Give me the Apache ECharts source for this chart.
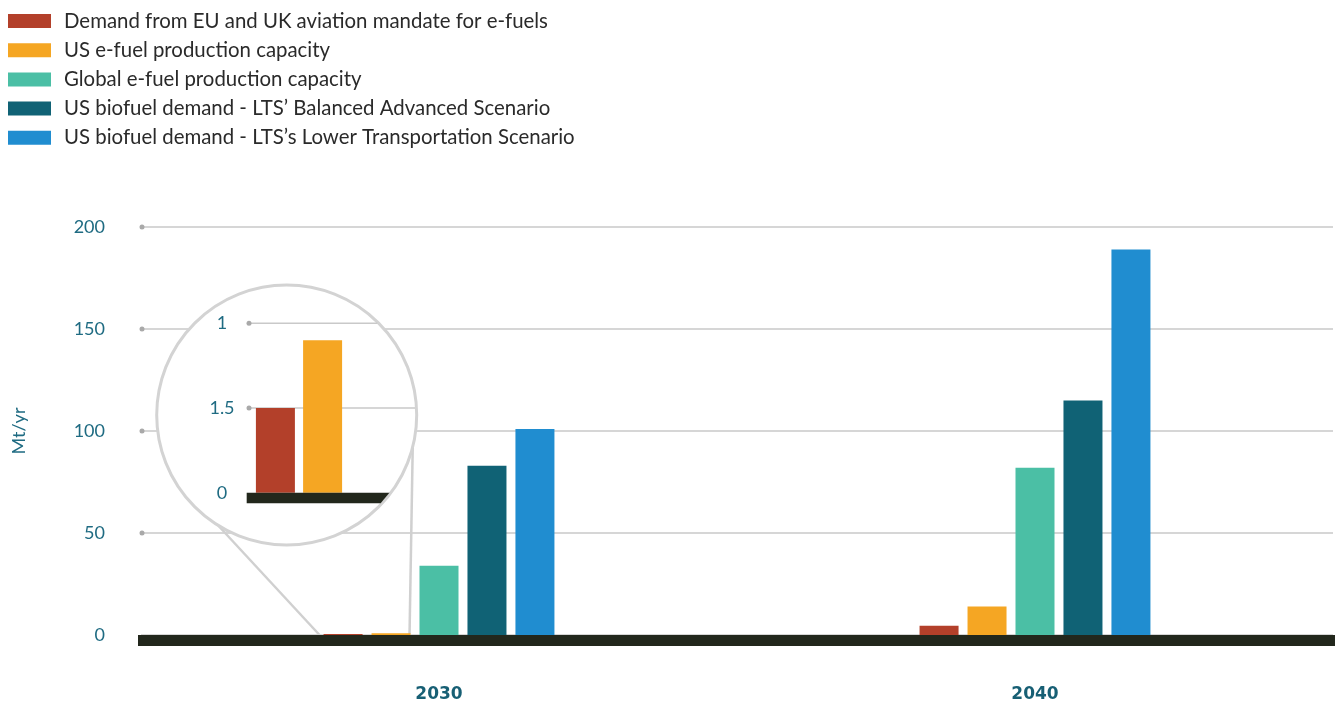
<!DOCTYPE html>
<html>
<head>
<meta charset="utf-8">
<style>
  html, body { margin: 0; padding: 0; background: #ffffff; }
  #chart { width: 1335px; height: 702px; }
</style>
<script src="https://cdn.jsdelivr.net/npm/echarts@6/dist/echarts.min.js"></script>
</head>
<body>
<div id="chart"></div>
<script>
// Fuel demand and capacity, Mt/yr
const years = ['2030', '2040'];
const seriesNames = [
  'Demand from EU and UK aviation mandate for e-fuels',
  'US e-fuel production capacity',
  'Global e-fuel production capacity',
  'US biofuel demand - LTS\u2019 Balanced Advanced Scenario',
  'US biofuel demand - LTS\u2019s Lower Transportation Scenario'
];
const euUkMandate = [0.5, 4.5];
const usEfuelCapacity = [0.9, 14];
const globalEfuelCapacity = [34, 82];
const usBiofuelBalanced = [83, 115];
const usBiofuelLowerTransport = [101, 189];
const yTicks = [0, 50, 100, 150, 200];
// magnifier tick labels as printed
const insetTickValues = [0, 0.5, 1];
const insetTickLabels = ['0', '1.5', '1'];

const colors = ['#b3402a', '#f5a623', '#4bbfa5', '#106275', '#208dd0'];
const values = [euUkMandate, usEfuelCapacity, globalEfuelCapacity, usBiofuelBalanced, usBiofuelLowerTransport];

const FONT = 'Lato, "Noto Sans", sans-serif';
const LABEL_COLOR = '#1f6b82';
const GRID_COLOR = '#c9c9c9';
const BASE_COLOR = '#22271c';
const BAR_W = 39;

const chart = echarts.init(document.getElementById('chart'), null, { renderer: 'canvas' });

const mainSeries = seriesNames.map((name, i) => ({
  name: name,
  type: 'bar',
  xAxisIndex: 0,
  yAxisIndex: 0,
  data: values[i],
  barWidth: BAR_W,
  barGap: '23%',
  itemStyle: { color: colors[i] },
  z: 2,
  emphasis: { disabled: true }
}));

// magnified view of the two smallest 2030 bars
const insetSeries = [0, 1].map(i => ({
  name: seriesNames[i],
  type: 'bar',
  xAxisIndex: 1,
  yAxisIndex: 1,
  data: [values[i][0]],
  barWidth: BAR_W,
  barGap: '21%',
  itemStyle: { color: colors[i] },
  z: 6,
  emphasis: { disabled: true }
}));

chart.setOption({
  animation: false,
  textStyle: { fontFamily: FONT },
  legend: {
    orient: 'vertical',
    left: 8,
    top: 11,
    padding: 0,
    itemWidth: 43,
    itemHeight: 14,
    itemGap: 9.2,
    icon: 'rect',
    selectedMode: false,
    data: seriesNames,
    textStyle: { fontSize: 20.4, color: '#2a2a2a', fontFamily: FONT, padding: [0, 0, 0, 8] }
  },
  grid: [
    { left: 141, right: 2, top: 227, bottom: 67, outerBoundsMode: 'none', containLabel: false },
    { left: 248, width: 102, top: 323.3, bottom: 209.3, outerBoundsMode: 'none', containLabel: false }
  ],
  xAxis: [
    {
      type: 'category',
      gridIndex: 0,
      data: years,
      axisLine: { show: false },
      axisTick: { show: false },
      axisLabel: {
        margin: 51,
        fontSize: 17,
        fontWeight: 'bold',
        color: '#175f74',
        fontFamily: '"DejaVu Sans", sans-serif'
      }
    },
    {
      type: 'category',
      gridIndex: 1,
      data: ['2030'],
      axisLine: { show: false },
      axisTick: { show: false },
      axisLabel: { show: false }
    }
  ],
  yAxis: [
    {
      type: 'value',
      gridIndex: 0,
      min: 0,
      max: 200,
      interval: 50,
      name: 'Mt/yr',
      nameLocation: 'middle',
      nameGap: 113,
      nameTextStyle: { color: LABEL_COLOR, fontSize: 18, fontFamily: FONT },
      axisLine: { show: false },
      axisTick: { show: false },
      axisLabel: { margin: 36, fontSize: 18, color: LABEL_COLOR, fontFamily: FONT },
      splitLine: { show: true, lineStyle: { color: GRID_COLOR, width: 1.5 } }
    },
    {
      type: 'value',
      gridIndex: 1,
      min: 0,
      max: 1,
      interval: 0.5,
      z: 8,
      axisLine: { show: false },
      axisTick: { show: false },
      splitLine: { show: false },
      axisLabel: {
        margin: 26,
        align: 'center',
        fontSize: 18,
        color: LABEL_COLOR,
        fontFamily: FONT,
        formatter: v => {
          const k = insetTickValues.findIndex(t => Math.abs(t - v) < 1e-9);
          return k >= 0 ? insetTickLabels[k] : '';
        }
      }
    }
  ],
  series: mainSeries.concat(insetSeries)
});

// ---- decorations: baseline, tick dots, magnifier lens and its leader lines ----
function drawDecor() {
  const g = [];
  const gridRect0 = chart.getModel().getComponent('grid', 0).coordinateSystem.getRect();
  const gridRect1 = chart.getModel().getComponent('grid', 1).coordinateSystem.getRect();
  const y0 = chart.convertToPixel({ yAxisIndex: 0 }, 0);

  // thick baseline under the main bars
  g.push({ type: 'rect', z: 4, shape: { x: gridRect0.x - 3, y: y0, width: gridRect0.width + 6, height: 11 }, style: { fill: BASE_COLOR } });

  // dots at the start of each main gridline
  yTicks.filter(v => v > 0).forEach(v => {
    const y = chart.convertToPixel({ yAxisIndex: 0 }, v);
    g.push({ type: 'circle', z: 3, shape: { cx: gridRect0.x + 1, cy: y, r: 2.5 }, style: { fill: '#a9a9a9' } });
  });

  // lens
  const cx = 286.7, cy = 415, r = 130;
  const edgeX = y => cx + Math.sqrt(Math.max(0, r * r - (y - cy) * (y - cy)));

  // leader lines from the lens down to the small 2030 bars
  const x2030 = chart.convertToPixel({ xAxisIndex: 0 }, '2030');
  const groupHalf = (5 * BAR_W + 4 * BAR_W * 0.23) / 2;
  const aL = 121.8 * Math.PI / 180, aR = 14.2 * Math.PI / 180;
  const lineStyle = { stroke: '#d0d0d0', lineWidth: 2.5 };
  g.push({ type: 'line', z: 1, shape: { x1: cx + r * Math.cos(aL), y1: cy + r * Math.sin(aL), x2: x2030 - groupHalf - 4, y2: y0 }, style: lineStyle });
  g.push({ type: 'line', z: 1, shape: { x1: cx + r * Math.cos(aR), y1: cy + r * Math.sin(aR), x2: x2030 - groupHalf + 2 * BAR_W + BAR_W * 0.23 - 1, y2: y0 }, style: lineStyle });

  g.push({ type: 'circle', z: 1, shape: { cx: cx, cy: cy, r: r }, style: { fill: '#ffffff', stroke: '#d3d3d3', lineWidth: 3 } });

  // lens gridlines, clipped to the lens edge
  insetTickValues.filter(v => v > 0).forEach(v => {
    const y = chart.convertToPixel({ yAxisIndex: 1 }, v);
    g.push({ type: 'line', z: 3, shape: { x1: gridRect1.x, y1: y, x2: edgeX(y) - 1.5, y2: y }, style: { stroke: GRID_COLOR, lineWidth: 1.5 } });
    g.push({ type: 'circle', z: 3, shape: { cx: gridRect1.x + 1, cy: y, r: 2.5 }, style: { fill: '#a9a9a9' } });
  });

  // lens baseline
  const b0 = chart.convertToPixel({ yAxisIndex: 1 }, 0);
  const b1 = b0 + 10.6;
  const bx = gridRect1.x - 1.3;
  g.push({
    type: 'polygon', z: 7,
    shape: { points: [[bx, b0], [edgeX(b0) - 1.5, b0], [edgeX(b1) - 1.5, b1], [bx, b1]] },
    style: { fill: BASE_COLOR }
  });

  chart.setOption({ graphic: { elements: g } });
}
drawDecor();
</script>
</body>
</html>
